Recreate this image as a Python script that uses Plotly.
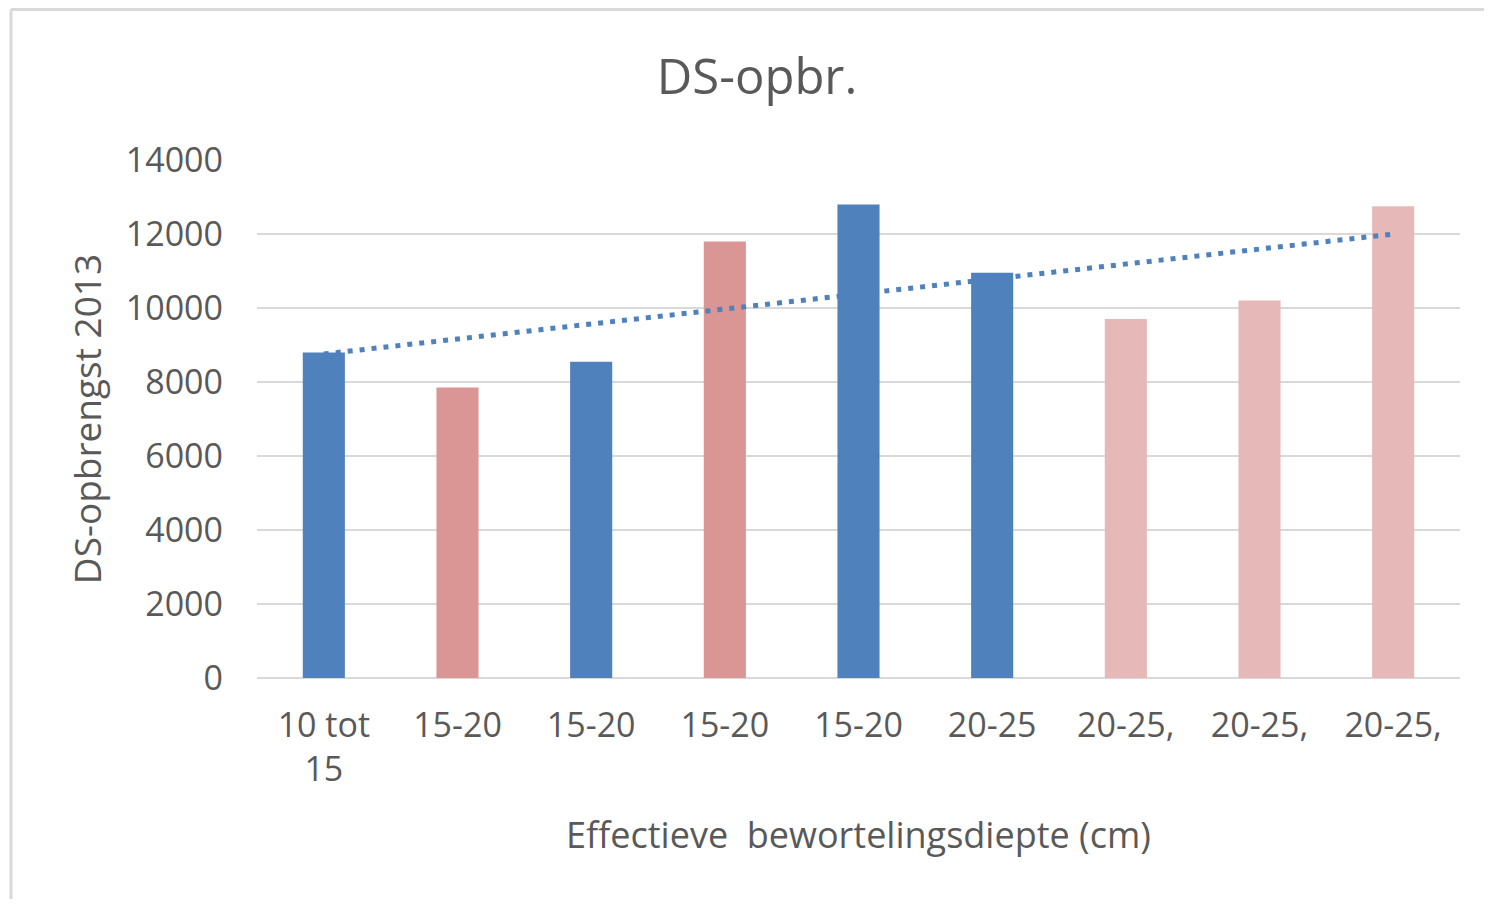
import numpy as np
import plotly.graph_objects as go

categories = ["10 tot<br>15", "15-20", "15-20", "15-20", "15-20", "20-25", "20-25,", "20-25,", "20-25,"]
values = [8800, 7850, 8550, 11800, 12800, 10950, 9700, 10200, 12750]
bar_colors = ["#4F81BD", "#D99694", "#4F81BD", "#D99694", "#4F81BD", "#4F81BD", "#E6B9B8", "#E6B9B8", "#E6B9B8"]
y_ticks = [0, 2000, 4000, 6000, 8000, 10000, 12000, 14000]

x_pos = np.arange(1, len(values) + 1)
slope, intercept = np.polyfit(x_pos, values, 1)
trend_x = [x_pos[0], x_pos[-1]]
trend_y = [slope * trend_x[0] + intercept, slope * trend_x[1] + intercept]

FONT = "Open Sans, Liberation Sans, sans-serif"
GRAY = "#595959"

W, H = 1476, 891  # page has 8px body margin
fig = go.Figure()
fig.add_trace(go.Bar(x=x_pos, y=values, marker=dict(color=bar_colors, line=dict(width=0)),
                     width=0.315, showlegend=False, hoverinfo="x+y"))
fig.add_trace(go.Scatter(x=trend_x, y=trend_y, mode="lines",
                         line=dict(color="#4F81BD", width=5, dash="5px,7px"), showlegend=False))

fig.update_layout(
    width=W, height=H,
    margin=dict(l=249, r=24, t=152, b=221),
    paper_bgcolor="white", plot_bgcolor="white",
    font=dict(family=FONT, color=GRAY),
    title=dict(text="DS-opbr.", x=(757 - 8) / W, xref="container", xanchor="center",
               y=1 - (77 - 8) / H, yref="container", yanchor="middle",
               font=dict(size=49, color=GRAY, family=FONT)),
)
fig.update_xaxes(
    range=[0.5, 9.5], tickmode="array", tickvals=list(x_pos), ticktext=categories,
    tickfont=dict(size=34, color=GRAY), showgrid=False, zeroline=False, showline=False,
    ticks="", ticklabelstandoff=24,
    title=dict(text="Effectieve  bewortelingsdiepte (cm)", font=dict(size=36, color=GRAY), standoff=32),
)
fig.update_yaxes(
    range=[0, 14000], tickmode="array", tickvals=y_ticks, ticktext=[str(v) for v in y_ticks],
    tickfont=dict(size=34, color=GRAY), showgrid=True, gridcolor="#D9D9D9", gridwidth=2,
    zeroline=True, zerolinecolor="#D9D9D9", zerolinewidth=2, showline=False, ticks="",
    ticklabelstandoff=33,
    title=dict(text="DS-opbrengst 2013", font=dict(size=37, color=GRAY), standoff=12),
)
# chart-area border (left and top edges visible in reference)
bx = (11 - 257) / 1203
by = (678 - 9.5) / 518
fig.add_shape(type="line", xref="paper", yref="paper", x0=bx, x1=1.05, y0=by, y1=by,
              line=dict(color="#D9D9D9", width=3))
fig.add_shape(type="line", xref="paper", yref="paper", x0=bx, x1=bx, y0=-0.5, y1=by,
              line=dict(color="#D9D9D9", width=3))

fig.write_html("out.html")
